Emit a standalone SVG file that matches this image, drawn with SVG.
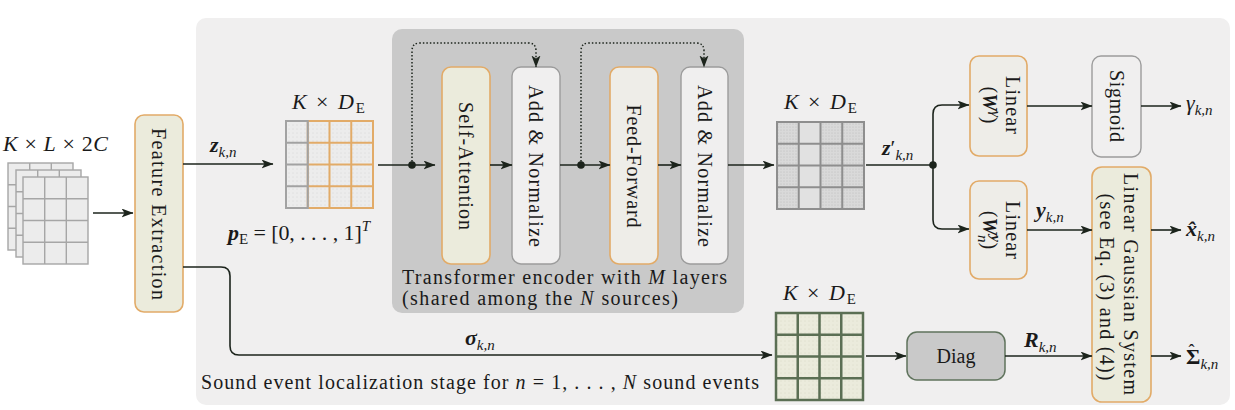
<svg xmlns="http://www.w3.org/2000/svg" width="1235" height="410" viewBox="0 0 1235 410">
<style>
text{font-family:"Liberation Serif","DejaVu Serif",serif;font-size:20px;fill:#1a1a1a}
.m{font-size:22px}
.i{font-style:italic}
.bi{font-style:italic;font-weight:bold}
.b{font-weight:bold}
.sub{font-size:15px;font-style:italic}
.subr{font-size:15px}
.c{fill:none;stroke:#1c241c;stroke-width:1.6}
.dot{fill:none;stroke:#1c241c;stroke-width:1.5;stroke-dasharray:1.5 2}
.org{fill:#ebebdc;stroke:#e2ab68;stroke-width:1.6}
.orgw{fill:#eeede8;stroke:#e2ab68;stroke-width:1.6}
.gry{fill:#f0efef;stroke:#9c9c9c;stroke-width:1.4}
</style>
<defs>
<marker id="ah" markerUnits="userSpaceOnUse" markerWidth="13" markerHeight="10" refX="11.5" refY="4.5" orient="auto">
<path d="M0,0 L12,4.5 L0,9 L3,4.5 z" fill="#1c241c"/>
</marker>
<pattern id="pg" width="4" height="4" patternUnits="userSpaceOnUse"><rect width="4" height="4" fill="#ececec"/><circle cx="1" cy="1" r="0.45" fill="#c2c2c2"/></pattern>
<pattern id="pd" width="3" height="3" patternUnits="userSpaceOnUse"><rect width="3" height="3" fill="#d9d9d9"/><circle cx="1" cy="1" r="0.5" fill="#b4b4b4"/></pattern>
<pattern id="py" width="4" height="4" patternUnits="userSpaceOnUse"><rect width="4" height="4" fill="#ebebdc"/><circle cx="1" cy="1" r="0.45" fill="#c9c9b4"/></pattern>
</defs>

<rect x="196" y="18" width="1034" height="387" rx="10" fill="#f0efef"/>
<g id="transformer">
<rect x="392" y="29" width="352" height="284" rx="10" fill="#c9c9c9"/>
<text x="402" y="284" textLength="325" lengthAdjust="spacing">Transformer encoder with <tspan class="i">M</tspan> layers</text>
<text x="402" y="305" textLength="276" lengthAdjust="spacing">(shared among the <tspan class="i">N</tspan> sources)</text>
</g>

<g id="input">
<g fill="#ececec" stroke="#a6a6a6" stroke-width="1.4">
<rect x="8" y="163" width="65" height="87"/>
<path d="M29.7,163V250M51.3,163V250M8,184.75H73M8,206.5H73M8,228.25H73"/>
<rect x="16" y="170" width="65" height="87"/>
<path d="M37.7,170V257M59.3,170V257M16,191.75H81M16,213.5H81M16,235.25H81"/>
<rect x="23" y="177" width="65" height="87"/>
<path d="M44.7,177V264M66.3,177V264M23,198.75H88M23,220.5H88M23,242.25H88"/>
</g>
<text class="m" x="3" y="151" textLength="105" lengthAdjust="spacing"><tspan class="i">K</tspan> × <tspan class="i">L</tspan> × 2<tspan class="i">C</tspan></text>
</g>

<g id="feature-extraction">
<rect x="135" y="115" width="48" height="197" rx="9" class="org"/>
<text transform="translate(152,214) rotate(90)" text-anchor="middle" textLength="172" lengthAdjust="spacing">Feature Extraction</text>
</g>

<g id="grid1">
<rect x="286" y="121" width="87" height="87" fill="url(#pg)"/>
<g fill="none" stroke="#e2ab68" stroke-width="2">
<rect x="307.75" y="121" width="65.25" height="87"/>
<path d="M329.5,121V208M351.25,121V208M307.75,142.75H373M307.75,164.5H373M307.75,186.25H373"/>
</g>
<g fill="none" stroke="#a2a2a2" stroke-width="2">
<rect x="286" y="121" width="21.75" height="87"/>
<path d="M286,142.75H307.75M286,164.5H307.75M286,186.25H307.75"/>
</g>
<text class="m" x="292" y="109" textLength="73" lengthAdjust="spacing"><tspan class="i">K</tspan> × <tspan class="i">D</tspan><tspan class="subr" dy="4">E</tspan></text>
<text class="m" x="228" y="240" textLength="142" lengthAdjust="spacing"><tspan class="bi">p</tspan><tspan class="subr" dy="4">E</tspan><tspan dy="-4"> = [0, . . . , 1]</tspan><tspan class="sub" dy="-9">T</tspan></text>
</g>

<g id="self-attention">
<rect x="442" y="67" width="48" height="197" rx="9" class="org"/>
<text transform="translate(459,166) rotate(90)" text-anchor="middle" textLength="128" lengthAdjust="spacing">Self-Attention</text>
</g>
<g id="add-norm-1">
<rect x="512" y="67" width="48" height="197" rx="9" class="gry"/>
<text transform="translate(529,166) rotate(90)" text-anchor="middle" textLength="162" lengthAdjust="spacing">Add &amp; Normalize</text>
</g>
<g id="feed-forward">
<rect x="610" y="67" width="48" height="197" rx="9" class="orgw"/>
<text transform="translate(627,166) rotate(90)" text-anchor="middle" textLength="123" lengthAdjust="spacing">Feed-Forward</text>
</g>
<g id="add-norm-2">
<rect x="681" y="67" width="47" height="197" rx="9" class="gry"/>
<text transform="translate(697.5,166) rotate(90)" text-anchor="middle" textLength="162" lengthAdjust="spacing">Add &amp; Normalize</text>
</g>

<g id="grid2">
<rect x="777" y="122" width="87" height="87" fill="url(#pd)"/>
<rect x="798.75" y="122" width="21.75" height="87" fill="#e1e1e1"/>
<g fill="none" stroke="#8e8e8e" stroke-width="2">
<rect x="777" y="122" width="87" height="87"/>
<path d="M798.75,122V209M820.5,122V209M842.25,122V209M777,143.75H864M777,165.5H864M777,187.25H864"/>
</g>
<text class="m" x="784" y="109" textLength="73" lengthAdjust="spacing"><tspan class="i">K</tspan> × <tspan class="i">D</tspan><tspan class="subr" dy="4">E</tspan></text>
</g>

<g id="linear-gamma">
<rect x="970" y="56" width="57" height="100" rx="9" class="orgw"/>
<text transform="translate(1006,105) rotate(90)" text-anchor="middle" textLength="58" lengthAdjust="spacing">Linear</text>
<text transform="translate(983,105) rotate(90)" text-anchor="middle">(<tspan class="bi">W</tspan><tspan class="sub" dy="-8">γ</tspan><tspan dy="8">)</tspan></text>
</g>
<g id="sigmoid">
<rect x="1092" y="56" width="49" height="101" rx="9" class="gry"/>
<text transform="translate(1110,106) rotate(90)" text-anchor="middle" textLength="72" lengthAdjust="spacing">Sigmoid</text>
</g>
<g id="linear-y">
<rect x="970" y="181" width="57" height="98" rx="9" class="orgw"/>
<text transform="translate(1006,230) rotate(90)" text-anchor="middle" textLength="58" lengthAdjust="spacing">Linear</text>
<text transform="translate(983,230) rotate(90)" text-anchor="middle">(<tspan class="bi">W</tspan><tspan class="sub" font-weight="bold" dy="-8">y</tspan><tspan class="sub" dx="-7" dy="13">n</tspan><tspan dy="-5">)</tspan></text>
</g>
<g id="lgs">
<rect x="1092" y="167" width="59" height="235" rx="10" class="org"/>
<text transform="translate(1124,284) rotate(90)" text-anchor="middle" textLength="222" lengthAdjust="spacing">Linear Gaussian System</text>
<text transform="translate(1100,287) rotate(90)" text-anchor="middle" textLength="187" lengthAdjust="spacing">(see Eq. (3) and (4))</text>
</g>

<g id="grid3">
<rect x="776" y="313" width="87" height="87" fill="url(#py)"/>
<g fill="none" stroke="#5b6f54" stroke-width="2.5">
<rect x="776" y="313" width="87" height="87"/>
<path d="M797.75,313V400M819.5,313V400M841.25,313V400M776,334.75H863M776,356.5H863M776,378.25H863"/>
</g>
<text class="m" x="783" y="300" textLength="73" lengthAdjust="spacing"><tspan class="i">K</tspan> × <tspan class="i">D</tspan><tspan class="subr" dy="4">E</tspan></text>
</g>
<g id="diag">
<rect x="907" y="332" width="98" height="48" rx="10" fill="#c9c9c9" stroke="#5f735c" stroke-width="1.5"/>
<text x="956" y="363" text-anchor="middle" font-size="21">Diag</text>
</g>

<g id="connectors">
<path class="c" d="M93,213H133" marker-end="url(#ah)"/>
<path class="c" d="M183,164H273" marker-end="url(#ah)"/>
<path class="c" d="M183,267H221Q230,267 230,276V346Q230,355 239,355H772" marker-end="url(#ah)"/>
<path class="c" d="M378,165H435" marker-end="url(#ah)"/>
<path class="c" d="M490,165H512" marker-end="url(#ah)"/>
<path class="c" d="M560,165H610" marker-end="url(#ah)"/>
<path class="c" d="M658,165H681" marker-end="url(#ah)"/>
<path class="c" d="M728,165H774" marker-end="url(#ah)"/>
<path class="dot" d="M412,165V51Q412,43 420,43H528Q536,43 536,51V67" marker-end="url(#ah)"/>
<path class="dot" d="M581,165V51Q581,43 589,43H696Q704,43 704,51V67" marker-end="url(#ah)"/>
<circle cx="412" cy="165" r="3.8" fill="#1c241c"/>
<circle cx="581" cy="165" r="3.8" fill="#1c241c"/>
<path class="c" d="M866,165H933"/>
<path class="c" d="M933,165V114Q933,105 942,105H969" marker-end="url(#ah)"/>
<path class="c" d="M933,165V220Q933,229 942,229H969" marker-end="url(#ah)"/>
<circle cx="933" cy="165" r="3.8" fill="#1c241c"/>
<path class="c" d="M1027,106H1092" marker-end="url(#ah)"/>
<path class="c" d="M1141,106H1181" marker-end="url(#ah)"/>
<path class="c" d="M1027,230H1092" marker-end="url(#ah)"/>
<path class="c" d="M1151,230H1181" marker-end="url(#ah)"/>
<path class="c" d="M866,356H906" marker-end="url(#ah)"/>
<path class="c" d="M1005,356H1092" marker-end="url(#ah)"/>
<path class="c" d="M1151,356H1181" marker-end="url(#ah)"/>
</g>

<g id="labels">
<text class="m" x="210" y="152"><tspan class="bi">z</tspan><tspan class="sub" dy="5">k,n</tspan></text>
<text class="m" x="882" y="155"><tspan class="bi">z</tspan>′<tspan class="sub" dy="5">k,n</tspan></text>
<text class="m" x="465" y="345"><tspan class="bi">σ</tspan><tspan class="sub" dy="5">k,n</tspan></text>
<text class="m" x="1186" y="110"><tspan class="i">γ</tspan><tspan class="sub" dy="5">k,n</tspan></text>
<text class="m" x="1036" y="217"><tspan class="bi">y</tspan><tspan class="sub" dy="5">k,n</tspan></text>
<text class="m" x="1186" y="236"><tspan class="bi">x̂</tspan><tspan class="sub" dy="5">k,n</tspan></text>
<text class="m" x="1024" y="347"><tspan class="bi">R</tspan><tspan class="sub" dy="5">k,n</tspan></text>
<text class="m" x="1186" y="364"><tspan class="b">Σ</tspan><tspan class="sub" dy="5">k,n</tspan><tspan x="1188.5" y="357" font-size="18">ˆ</tspan></text>
<text x="201" y="389" textLength="558" lengthAdjust="spacing">Sound event localization stage for <tspan class="i">n</tspan> = 1, . . . , <tspan class="i">N</tspan> sound events</text>
</g>
</svg>
